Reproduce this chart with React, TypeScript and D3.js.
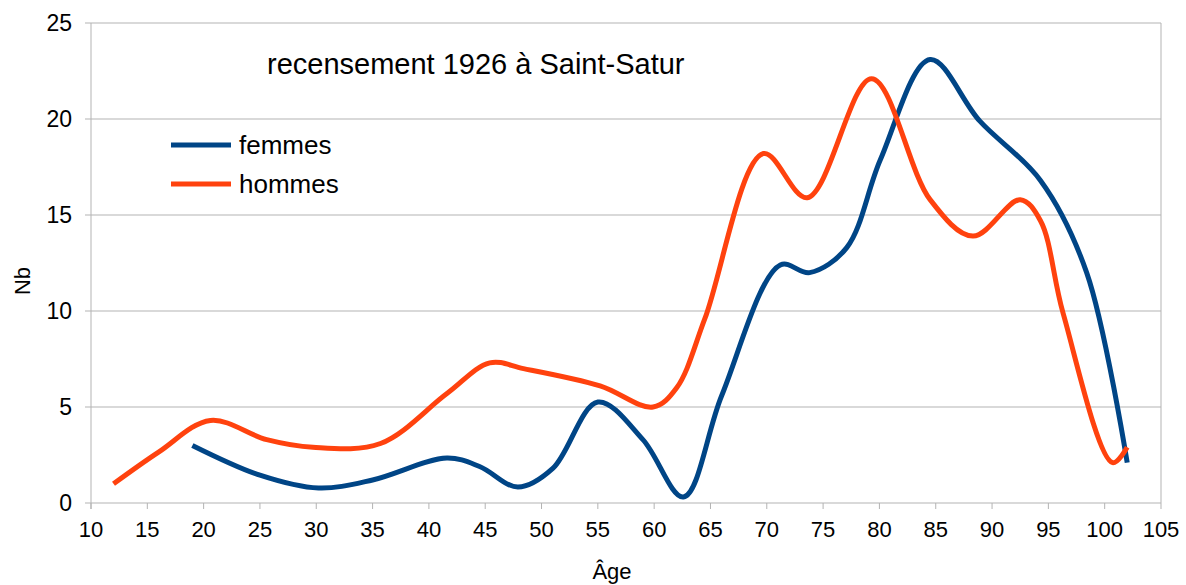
import React from 'react';
import * as d3 from 'd3';

// age / count pairs
const femmesAges = [19, 25, 30.2, 35, 41.6, 44.5, 47.9, 51, 55, 59, 62.6, 66, 71.2, 73.8, 77.1, 80.1, 84.5, 88.9, 94.3, 98.4, 102];
const femmesNb = [3, 1.45, 0.78, 1.2, 2.34, 1.9, 0.83, 1.8, 5.26, 3.3, 0.31, 5.6, 12.4, 12.0, 13.3, 17.9, 23.1, 19.9, 16.8, 12.0, 2.1];

const hommesAges = [12, 16, 20.6, 25.6, 29.7, 35.7, 41.6, 45.4, 48.4, 55.2, 59.9, 62, 64.5, 69.7, 73.6, 79.3, 84.5, 88.3, 92.5, 94.3, 96.3, 100.7, 102];
const hommesNb = [1, 2.65, 4.3, 3.3, 2.9, 3.1, 5.7, 7.3, 7.0, 6.1, 5.0, 6.0, 9.6, 18.2, 15.9, 22.1, 15.8, 13.9, 15.8, 14.7, 9.9, 2.1, 2.9];

const xTicks = d3.range(10, 106, 5);
const yTicks = [0, 5, 10, 15, 20, 25];

const series = [
  { name: 'femmes', color: '#004586', ages: femmesAges, values: femmesNb },
  { name: 'hommes', color: '#ff420e', ages: hommesAges, values: hommesNb },
];

const W = 1186;
const H = 585;
const margin = { top: 23, right: 25, bottom: 82, left: 91 };

const App: React.FC = () => {
  const innerW = W - margin.left - margin.right;
  const innerH = H - margin.top - margin.bottom;

  const x = d3.scaleLinear().domain([10, 105]).range([0, innerW]);
  const y = d3.scaleLinear().domain([0, 25]).range([innerH, 0]);

  const line = d3
    .line<[number, number]>()
    .x(d => x(d[0]))
    .y(d => y(d[1]))
    .curve(d3.curveCatmullRom.alpha(0.5));

  const font = '"Liberation Sans", Arial, sans-serif';

  return (
    <svg width={W} height={H} style={{ position: 'absolute', left: 0, top: 0, background: '#fff' }} fontFamily={font}>
      <g transform={`translate(${margin.left},${margin.top})`}>
        {/* gridlines */}
        {yTicks.map(t => (
          <line key={'g' + t} x1={-6} x2={innerW} y1={y(t)} y2={y(t)} stroke="#b3b3b3" strokeWidth={1} />
        ))}
        <line x1={0} x2={0} y1={0} y2={innerH + 6} stroke="#b3b3b3" />
        <line x1={innerW} x2={innerW} y1={0} y2={innerH} stroke="#b3b3b3" />
        {xTicks.map(t => (
          <line key={'xt' + t} x1={x(t)} x2={x(t)} y1={innerH} y2={innerH + 6} stroke="#b3b3b3" />
        ))}

        {/* tick labels */}
        {yTicks.map(t => (
          <text key={'yl' + t} x={-19} y={y(t)} dy="0.35em" textAnchor="end" fontSize={23} fill="#000">
            {t}
          </text>
        ))}
        {xTicks.map(t => (
          <text key={'xl' + t} x={x(t)} y={innerH + 34} textAnchor="middle" fontSize={22} fill="#000">
            {t}
          </text>
        ))}

        {/* series */}
        {series.map(s => (
          <path
            key={s.name}
            d={line(s.ages.map((a, i) => [a, s.values[i]] as [number, number])) || ''}
            fill="none"
            stroke={s.color}
            strokeWidth={5}
          />
        ))}
      </g>

      {/* axis titles */}
      <text x={612} y={579} textAnchor="middle" fontSize={22} fill="#000">Âge</text>
      <text transform="translate(30,281) rotate(-90)" textAnchor="middle" fontSize={22} fill="#000">Nb</text>

      {/* title */}
      <text x={267} y={74} fontSize={29} fill="#000">recensement 1926 à Saint-Satur</text>

      {/* legend */}
      {series.map((s, i) => (
        <g key={'lg' + s.name} transform={`translate(171,${145 + i * 39})`}>
          <line x1={0} x2={60} y1={0} y2={0} stroke={s.color} strokeWidth={5} />
          <text x={68} y={0} dy="0.35em" fontSize={26} fill="#000">{s.name}</text>
        </g>
      ))}
    </svg>
  );
};

export default App;
